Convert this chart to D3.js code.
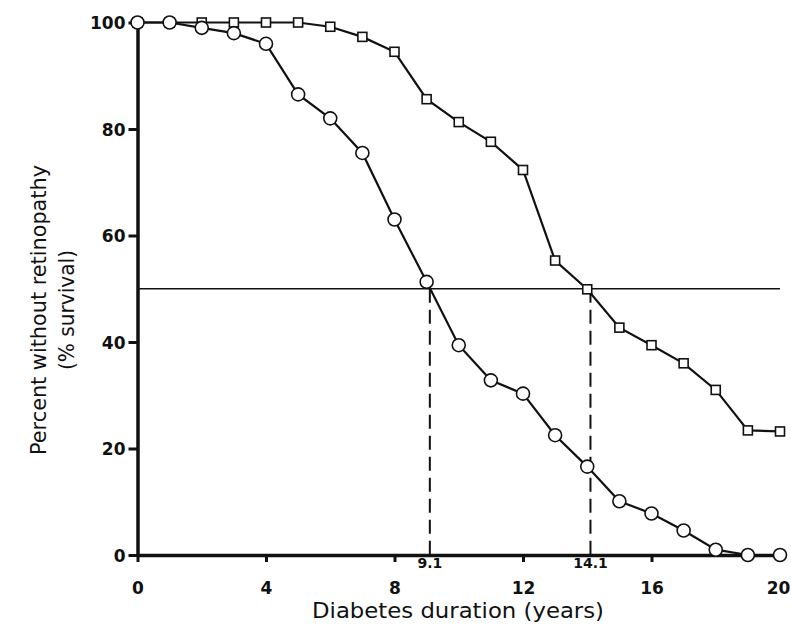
<!DOCTYPE html>
<html>
<head>
<meta charset="utf-8">
<script src="https://cdn.jsdelivr.net/npm/d3@7"></script>
<style>
  body { margin: 0; background: #fff; }
  text { fill: #111; }
</style>
</head>
<body>
<script>
// chart values
var years = d3.range(0, 21);
var circleSeries = [100, 100, 99, 98, 96, 86.5, 82, 75.5, 63, 51.3, 39.4, 32.8, 30.3, 22.5, 16.6, 10.1, 7.8, 4.6, 1, 0, 0];
var squareSeries = [100, 100, 100, 100, 100, 100, 99.2, 97.3, 94.5, 85.6, 81.3, 77.6, 72.3, 55.3, 49.9, 42.7, 39.4, 36, 31, 23.4, 23.2];
var xTicks = [0, 4, 8, 12, 16, 20];
var yTicks = [0, 20, 40, 60, 80, 100];
var medians = [9.1, 14.1];
var halfLevel = 50;

var opts = {
  width: 791,
  height: 641,
  left: 137.5,
  right: 780,
  top: 22.5,
  bottom: 555
};

var svg = d3.select('body').append('svg')
  .attr('width', opts.width)
  .attr('height', opts.height);

var x = d3.scaleLinear().domain([0, 20]).range([opts.left, opts.right]);
var y = d3.scaleLinear().domain([0, 100]).range([opts.bottom, opts.top]);

// 50% reference line
svg.append('line')
  .attr('x1', x(0)).attr('x2', x(20))
  .attr('y1', y(halfLevel)).attr('y2', y(halfLevel))
  .attr('stroke', '#111').attr('stroke-width', 1.6);

// dashed drops to the median durations
svg.selectAll('.drop')
  .data(medians)
  .enter().append('line')
  .attr('class', 'drop')
  .attr('x1', function(d) { return x(d); })
  .attr('x2', function(d) { return x(d); })
  .attr('y1', y(halfLevel))
  .attr('y2', y(0))
  .attr('stroke', '#111')
  .attr('stroke-width', 2)
  .attr('stroke-dasharray', '14,7');

// axes
var xAxis = d3.axisBottom(x).tickValues(xTicks).tickSize(7).tickPadding(20).tickSizeOuter(0);
var yAxis = d3.axisLeft(y).tickValues(yTicks).tickSize(9).tickPadding(3).tickSizeOuter(0);

var gx = svg.append('g').attr('transform', 'translate(0,' + opts.bottom + ')').call(xAxis);
var gy = svg.append('g').attr('transform', 'translate(' + opts.left + ',0)').call(yAxis);

[gx, gy].forEach(function(g) {
  g.select('.domain').attr('stroke', '#111').attr('stroke-width', 3.5);
  g.selectAll('.tick line').attr('stroke', '#111').attr('stroke-width', 3);
  g.selectAll('.tick text')
    .attr('fill', '#111')
    .style('font-family', '"DejaVu Sans", sans-serif')
    .style('font-weight', 'bold')
    .style('font-size', '17px');
});
gy.selectAll('.tick text').attr('dy', '0.36em');
// keep the last label inside the window
gx.selectAll('.tick text').filter(function(d) { return d === 20; }).attr('dx', -2);

// median labels under the axis
svg.selectAll('.medlab')
  .data(medians)
  .enter().append('text')
  .attr('class', 'medlab')
  .attr('x', function(d) { return x(d); })
  .attr('y', opts.bottom + 13)
  .attr('text-anchor', 'middle')
  .style('font-family', '"DejaVu Sans", sans-serif')
  .style('font-weight', 'bold')
  .style('font-size', '14px')
  .text(function(d) { return d.toFixed(1); });

// series lines
var line = d3.line()
  .x(function(d) { return x(d[0]); })
  .y(function(d) { return y(d[1]); });

var circlePts = years.map(function(t, i) { return [t, circleSeries[i]]; });
var squarePts = years.map(function(t, i) { return [t, squareSeries[i]]; });

svg.append('path').datum(squarePts)
  .attr('d', line).attr('fill', 'none')
  .attr('stroke', '#111').attr('stroke-width', 2.2);
svg.append('path').datum(circlePts)
  .attr('d', line).attr('fill', 'none')
  .attr('stroke', '#111').attr('stroke-width', 2.2);

svg.selectAll('.sq')
  .data(squarePts)
  .enter().append('rect')
  .attr('class', 'sq')
  .attr('x', function(d) { return x(d[0]) - 4.5; })
  .attr('y', function(d) { return y(d[1]) - 4.5; })
  .attr('width', 9).attr('height', 9)
  .attr('fill', '#fff').attr('stroke', '#111').attr('stroke-width', 1.6);

svg.selectAll('.ci')
  .data(circlePts)
  .enter().append('circle')
  .attr('class', 'ci')
  .attr('cx', function(d) { return x(d[0]); })
  .attr('cy', function(d) { return y(d[1]); })
  .attr('r', 6.5)
  .attr('fill', '#fff').attr('stroke', '#111').attr('stroke-width', 1.6);

// axis titles
svg.append('text')
  .attr('x', 458).attr('y', 618)
  .attr('text-anchor', 'middle')
  .attr('textLength', 292)
  .attr('lengthAdjust', 'spacingAndGlyphs')
  .style('font-family', '"DejaVu Sans", sans-serif')
  .style('font-size', '21px')
  .text('Diabetes duration (years)');

var yt = svg.append('text')
  .attr('transform', 'translate(46,310) rotate(-90)')
  .attr('text-anchor', 'middle')
  .style('font-family', '"DejaVu Sans", sans-serif')
  .style('font-size', '21px');
yt.append('tspan').attr('x', 0).attr('y', 0)
  .attr('textLength', 290).attr('lengthAdjust', 'spacingAndGlyphs')
  .text('Percent without retinopathy');
yt.append('tspan').attr('x', 0).attr('y', 28)
  .attr('textLength', 120).attr('lengthAdjust', 'spacingAndGlyphs')
  .text('(% survival)');
</script>
</body>
</html>
